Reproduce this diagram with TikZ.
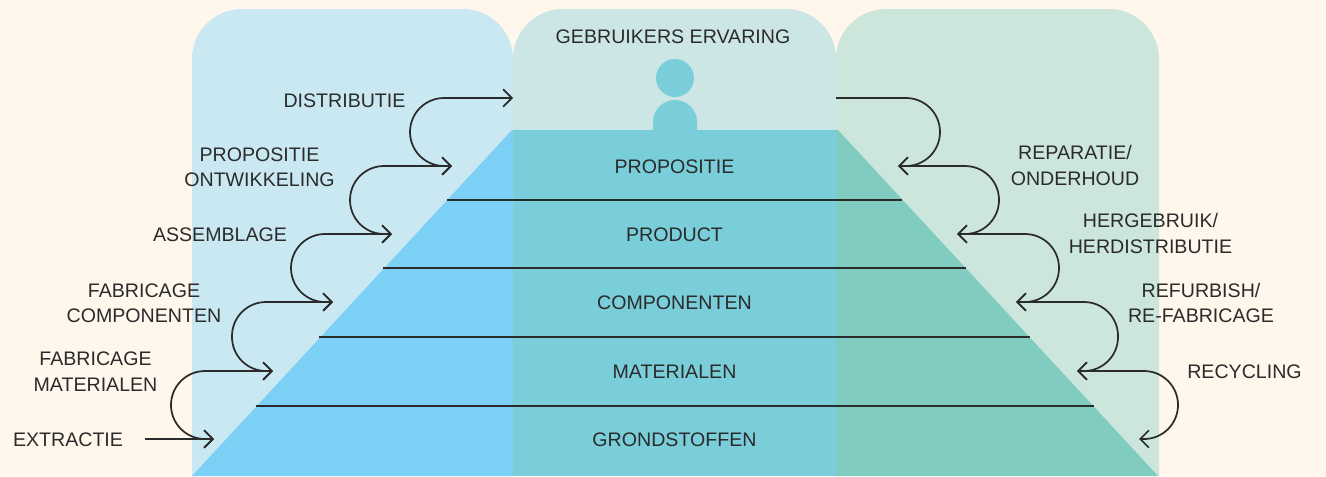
\documentclass[tikz,border=0pt]{standalone}
\usepackage{fontspec}
\setmainfont{Liberation Sans}
\usetikzlibrary{arrows.meta,positioning}
\definecolor{paper}{HTML}{FFF6EC}
\definecolor{inkdark}{HTML}{2B2B2B}
\definecolor{panelleft}{HTML}{CAE8F2}
\definecolor{panelmid}{HTML}{CCE6E6}
\definecolor{panelright}{HTML}{CCE6DC}
\definecolor{pyrleft}{HTML}{7DD0F5}
\definecolor{pyrmid}{HTML}{79CED9}
\definecolor{pyrright}{HTML}{81CCC0}
\tikzset{
	lbl/.style={inner sep=0pt,align=center,text=inkdark,font=\fontsize{14.7}{19.1}\selectfont},
	flow/.style={draw=inkdark,line width=1.3pt,rounded corners=25.5pt,-{Straight Barb[length=6.5pt,width=13pt]}},
	sbend/.style={flow,{Straight Barb[length=6.5pt,width=13pt]}-{Straight Barb[length=6.5pt,width=13pt]}},
	tier/.style={draw=inkdark,line width=1.5pt}
}

\begin{document}
\begin{tikzpicture}[x=0.75pt,y=-0.75pt]
	\useasboundingbox (0,0) rectangle (1326,476);
	\fill[paper] (0,0) rectangle (1326,476);
	% panels
	\fill[panelleft] (192,476) [rounded corners=37.5pt] -- (192,9) -- (513,9) [sharp corners] -- (513,476) -- cycle;
	\fill[panelmid] (513,476) [rounded corners=37.5pt] -- (513,9) -- (836,9) [sharp corners] -- (836,476) -- cycle;
	\fill[panelright] (836,476) [rounded corners=37.5pt] -- (836,9) -- (1159,9) [sharp corners] -- (1159,476) -- cycle;
	% pyramid
	\fill[pyrleft] (192,476) -- (512,130) -- (513,130) -- (513,476) -- cycle;
	\fill[pyrmid] (513,130) rectangle (836,476);
	\fill[pyrright] (836,130) -- (838,130) -- (1158,476) -- (836,476) -- cycle;
	% person
	\fill[pyrmid] (675,78) circle [radius=14.25pt];
	\fill[pyrmid] (653,130) -- (653,122) arc [start angle=180,end angle=0,radius=16.5pt] -- (697,130) -- cycle;
	% tiers
	\coordinate (a_1) at (447,200);
	\coordinate (b_1) at (902,200);
	\coordinate (a_2) at (383,268);
	\coordinate (b_2) at (966,268);
	\coordinate (a_3) at (319,337);
	\coordinate (b_3) at (1030,337);
	\coordinate (a_4) at (256,406);
	\coordinate (b_4) at (1094,406);
	\draw[tier] (a_1) -- (b_1);
	\draw[tier] (a_2) -- (b_2);
	\draw[tier] (a_3) -- (b_3);
	\draw[tier] (a_4) -- (b_4);
	% labels in the pyramid
	\node[lbl] (ervaring) at (673,37) {GEBRUIKERS ERVARING};
	\node[lbl] (propositie) at (674.5,166.5) {PROPOSITIE};
	\node[lbl,on grid,below=51.2pt of propositie] (product) {PRODUCT};
	\node[lbl,on grid,below=51.2pt of product] (componenten) {COMPONENTEN};
	\node[lbl,on grid,below=51.2pt of componenten] (materialen) {MATERIALEN};
	\node[lbl,on grid,below=51.2pt of materialen] (grondstoffen) {GRONDSTOFFEN};
	% labels on the left
	\node[lbl] (extractie) at (68,439.5) {EXTRACTIE};
	\node[lbl] (fabmat) at (95.5,371.5) {FABRICAGE\\MATERIALEN};
	\node[lbl] (fabcomp) at (144,303) {FABRICAGE\\COMPONENTEN};
	\node[lbl] (assemblage) at (220,234.5) {ASSEMBLAGE};
	\node[lbl] (ontwikkeling) at (259.5,167.5) {PROPOSITIE\\ONTWIKKELING};
	\node[lbl] (distributie) at (344.5,100.5) {DISTRIBUTIE};
	% labels on the right
	\node[lbl] (reparatie) at (1075,165.5) {REPARATIE/\\ONDERHOUD};
	\node[lbl] (hergebruik) at (1150.5,233.5) {HERGEBRUIK/\\HERDISTRIBUTIE};
	\node[lbl] (refurbish) at (1201,303) {REFURBISH/\\RE-FABRICAGE};
	\node[lbl] (recycling) at (1244.5,371.5) {RECYCLING};
	% left loop
	\coordinate (x_0) at (145,439);
	\coordinate (t_0) at (214,439);
	\coordinate (t_1) at (273,371);
	\coordinate (t_2) at (333,302);
	\coordinate (t_3) at (392,234);
	\coordinate (t_4) at (452,166);
	\coordinate (t_5) at (513,98);
	\coordinate (s_1) at (171,371);
	\coordinate (s_2) at (232,302);
	\coordinate (s_3) at (291,234);
	\coordinate (s_4) at (350,166);
	\coordinate (s_5) at (410,98);
	\draw[flow] (x_0) -- (t_0);
	\draw[sbend] (t_0) -| (s_1) -- (t_1);
	\draw[sbend] (t_1) -| (s_2) -- (t_2);
	\draw[sbend] (t_2) -| (s_3) -- (t_3);
	\draw[sbend] (t_3) -| (s_4) -- (t_4);
	\draw[sbend] (t_4) -| (s_5) -- (t_5);
	% right loop
	\coordinate (r_0) at (836,98);
	\coordinate (r_1) at (898,166);
	\coordinate (r_2) at (957,234);
	\coordinate (r_3) at (1016,302);
	\coordinate (r_4) at (1077,371);
	\coordinate (r_5) at (1139,439);
	\coordinate (u_1) at (940,166);
	\coordinate (u_2) at (999,234);
	\coordinate (u_3) at (1059,302);
	\coordinate (u_4) at (1118,371);
	\coordinate (u_5) at (1178,439);
	\draw[flow] (r_0) -| (u_1) -- (r_1);
	\draw[sbend] (r_1) -| (u_2) -- (r_2);
	\draw[sbend] (r_2) -| (u_3) -- (r_3);
	\draw[sbend] (r_3) -| (u_4) -- (r_4);
	\draw[sbend] (r_4) -| (u_5) -- (r_5);
\end{tikzpicture}
\end{document}
